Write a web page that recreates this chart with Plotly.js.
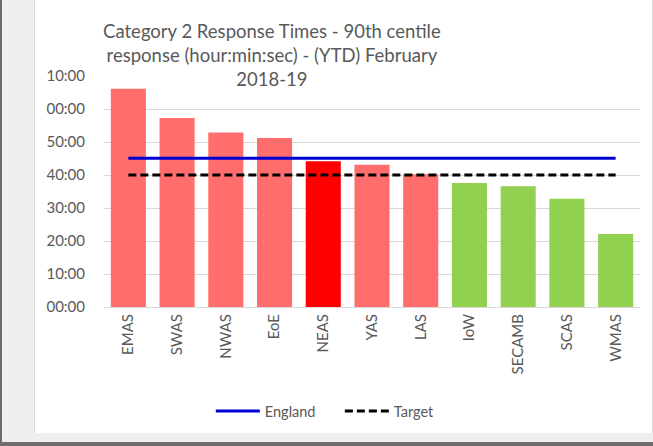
<!DOCTYPE html>
<html>
<head>
<meta charset="utf-8">
<script src="https://cdn.plot.ly/plotly-3.0.1.min.js"></script>
<style>
  html, body { margin:0; padding:0; }
  body { width:653px; height:446px; background:#efefef; position:relative; overflow:hidden; }
  #leftbar { position:absolute; left:0; top:0; width:2px; height:446px; background:#716c6c; }
  #bottombar { position:absolute; left:0; top:442px; width:653px; height:4px; background:#716c6c; }
  #frame { position:absolute; left:34px; top:-1px; width:617px; height:432px; border:1px solid #d9d9d9; background:#fff; }
  #chart { position:absolute; left:0; top:1px; width:617px; height:432px; }
</style>
</head>
<body>
<div id="leftbar"></div>
<div id="frame"><div id="chart"></div></div>
<div id="bottombar"></div>
<script>
// Values in minutes (90th centile, hour:min:sec)
const categories = ["EMAS","SWAS","NWAS","EoE","NEAS","YAS","LAS","IoW","SECAMB","SCAS","WMAS"];
const responseMinutes = [66.1, 57.3, 52.9, 51.2, 44.2, 43.1, 40.2, 37.6, 36.6, 32.8, 22.1];
const barColors = ["#ff6d6d","#ff6d6d","#ff6d6d","#ff6d6d","#ff0000","#ff6d6d","#ff6d6d","#92d050","#92d050","#92d050","#92d050"];
const englandMinutes = [45.05, 45.05, 45.05, 45.05, 45.05, 45.05, 45.05, 45.05, 45.05, 45.05, 45.05];
const targetMinutes = [40, 40, 40, 40, 40, 40, 40, 40, 40, 40, 40];
const yTickVals = [0, 10, 20, 30, 40, 50, 60, 70];
const yTickText = ["00:00","10:00","20:00","30:00","40:00","50:00","00:00","10:00"];

const FONT = "Lato, 'Open Sans', sans-serif";
const GREY = "#595959";

const traces = [
  {
    type: "bar",
    x: categories,
    y: responseMinutes,
    marker: { color: barColors, line: { width: 0 } },
    showlegend: false,
    hoverinfo: "x+y"
  },
  {
    type: "scatter",
    mode: "lines",
    name: "England",
    x: categories,
    y: englandMinutes,
    line: { color: "#0000d4", width: 3 }
  },
  {
    type: "scatter",
    mode: "lines",
    name: "Target",
    x: categories,
    y: targetMinutes,
    line: { color: "#000000", width: 3, dash: "8px,4px" }
  }
];

// plot area: page x 104..640, y 75..306 ; chart div starts at page x 35, y 0
const layout = {
  width: 617,
  height: 432,
  margin: { l: 69, r: 12, t: 75, b: 126 },
  paper_bgcolor: "#ffffff",
  plot_bgcolor: "#ffffff",
  font: { family: FONT, color: GREY, size: 15 },
  title: {
    text: "Category 2 Response Times - 90th centile<br>response (hour:min:sec) - (YTD) February<br>2018-19",
    font: { family: FONT, size: 18.5, color: GREY },
    xref: "container",
    x: 0.384,
    xanchor: "center",
    yref: "container",
    y: 0.914,
    yanchor: "middle"
  },
  bargap: 0.28,
  xaxis: {
    type: "category",
    tickangle: -90,
    tickfont: { family: FONT, size: 15, color: GREY },
    showgrid: false,
    showline: true,
    linecolor: "#d9d9d9",
    linewidth: 1,
    ticks: "",
    automargin: false
  },
  yaxis: {
    range: [0, 70],
    tickmode: "array",
    tickvals: yTickVals,
    ticktext: yTickText,
    tickfont: { family: FONT, size: 15, color: GREY },
    ticks: "outside",
    ticklen: 15,
    tickwidth: 1,
    tickcolor: "rgba(0,0,0,0)",
    showticklabels: true,
    showgrid: true,
    gridcolor: "#d9d9d9",
    gridwidth: 1,
    zeroline: false,
    showline: false,
    automargin: false
  },
  legend: {
    orientation: "h",
    xref: "container",
    yref: "container",
    x: 0.285,
    xanchor: "left",
    y: 0.051,
    yanchor: "middle",
    font: { family: FONT, size: 14.5, color: GREY },
    itemwidth: 44,
    entrywidth: 70,
    entrywidthmode: "pixels",
    bgcolor: "rgba(0,0,0,0)"
  },
  showlegend: true
};

Plotly.newPlot("chart", traces, layout, { displayModeBar: false });
</script>
</body>
</html>
